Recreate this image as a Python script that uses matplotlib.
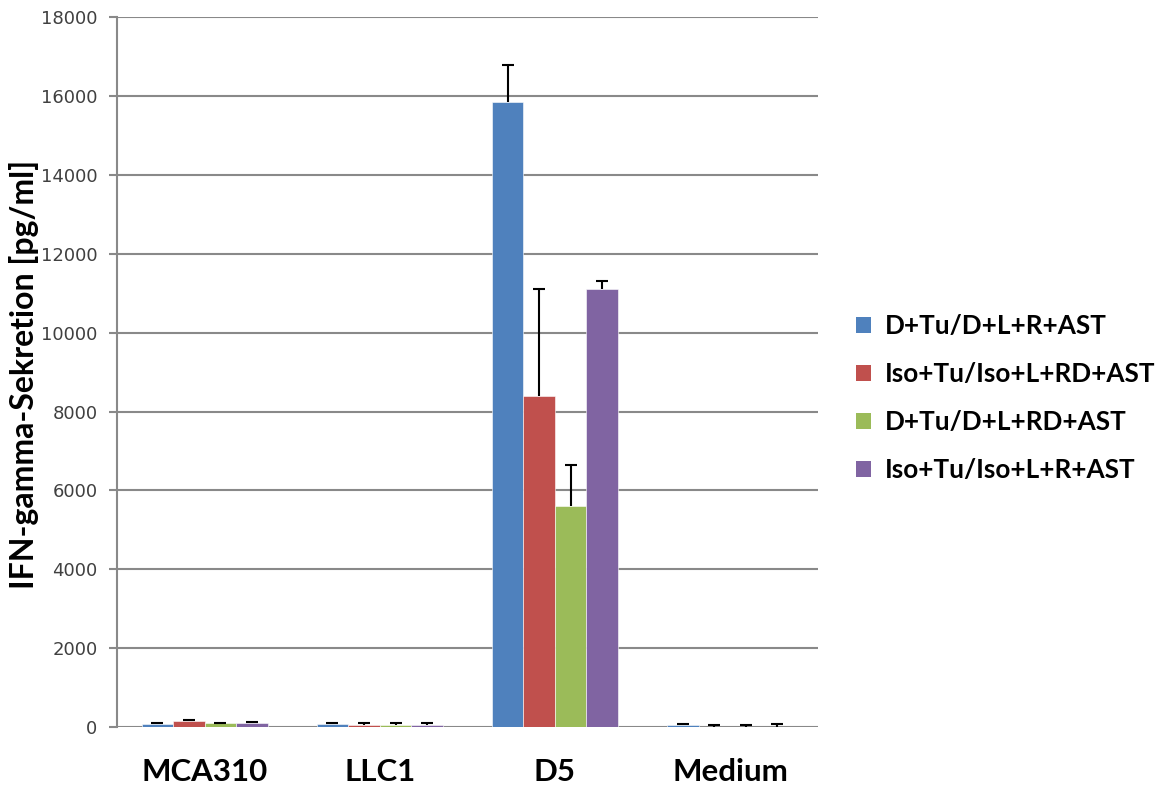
import numpy as np
import matplotlib
matplotlib.use("Agg")
import matplotlib.pyplot as plt
from matplotlib.patches import Patch

# ── Data ─────────────────────────────────────────────────────────────────────
CATEGORIES = ["MCA310", "LLC1", "D5", "Medium"]
SERIES = ["D+Tu/D+L+R+AST", "Iso+Tu/Iso+L+RD+AST",
          "D+Tu/D+L+RD+AST", "Iso+Tu/Iso+L+R+AST"]

VAL_D_R    = [75, 75, 15850, 50]
VAL_ISO_RD = [145, 40, 8400, 10]
VAL_D_RD   = [100, 40, 5600, 10]
VAL_ISO_R  = [100, 50, 11100, 10]

ERR_D_R    = [35, 25, 950, 30]
ERR_ISO_RD = [35, 60, 2700, 50]
ERR_D_RD   = [10, 60, 1050, 50]
ERR_ISO_R  = [15, 50, 200, 70]

YTICKS = [0, 2000, 4000, 6000, 8000, 10000, 12000, 14000, 16000, 18000]
# ─────────────────────────────────────────────────────────────────────────────

COLORS = ["#4f81bd", "#c0504d", "#9bbb59", "#8064a2"]
GRID = "#898989"

plt.rcParams["font.family"] = ["Lato", "DejaVu Sans"]

values = [VAL_D_R, VAL_ISO_RD, VAL_D_RD, VAL_ISO_R]
errors = [ERR_D_R, ERR_ISO_RD, ERR_D_RD, ERR_ISO_R]

fig = plt.figure(figsize=(11.63, 7.87), dpi=100)
ax = fig.add_axes([0.1006, 0.0762, 0.6025, 0.9018])

x = np.arange(len(CATEGORIES))
width = 0.18
for i, (vals, errs, col) in enumerate(zip(values, errors, COLORS)):
    xs = x + (i - 1.5) * width
    ax.bar(xs, vals, width, color=col, edgecolor="white", linewidth=0.4, zorder=3)
    _, caps, _ = ax.errorbar(xs, vals, yerr=[np.zeros(len(vals)), errs], fmt="none",
                             ecolor="black", elinewidth=1.5, capsize=4,
                             capthick=1.5, zorder=4)
    caps[0].set_visible(False)  # only upper caps, like the original

ax.set_xlim(-0.5, 3.5)
ax.set_ylim(0, 18000)
ax.set_yticks(YTICKS)
ax.set_yticklabels([str(t) for t in YTICKS], fontsize=13, color="#404040",
                   family=["DejaVu Sans"])
ax.set_xticks(x)
ax.set_xticklabels(CATEGORIES, fontsize=22.5, fontweight="bold")
ax.tick_params(axis="x", length=0, pad=22)
ax.tick_params(axis="y", length=6, width=1.5, color=GRID, pad=8)
ax.yaxis.grid(True, color=GRID, linewidth=1.5, zorder=0)
ax.set_axisbelow(True)

for s in ["top", "right", "bottom"]:
    ax.spines[s].set_visible(False)
ax.spines["left"].set_color(GRID)
ax.spines["left"].set_linewidth(1.5)
ax.set_ylabel("IFN-gamma-Sekretion [pg/ml]", fontsize=23, fontweight="bold")
ax.yaxis.set_label_coords(-0.112, 0.497)

handles = [Patch(facecolor=c, edgecolor="none") for c in COLORS]
fig.legend(handles, SERIES, loc="center left", bbox_to_anchor=(0.716, 0.494),
           frameon=False, prop={"size": 18.8, "weight": "bold"},
           handlelength=0.58, handleheight=0.58, handletextpad=0.5,
           labelspacing=0.92)

fig.savefig("out.png", dpi=100)
